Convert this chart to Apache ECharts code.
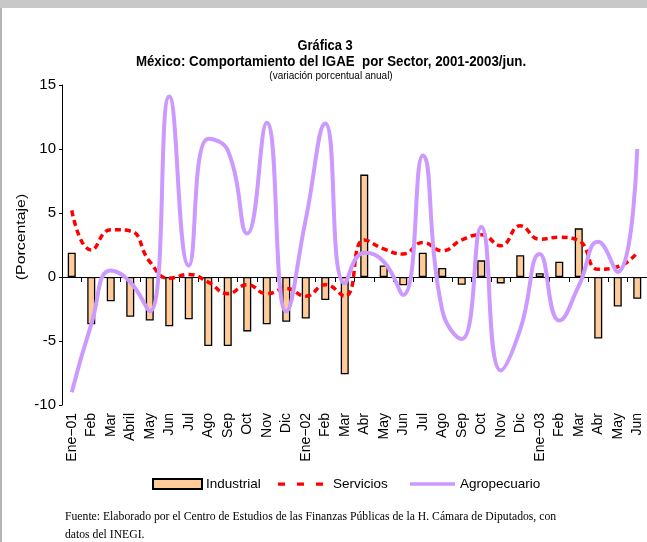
<!DOCTYPE html>
<html>
<head>
<meta charset="utf-8">
<script src="https://cdn.jsdelivr.net/npm/echarts@6/dist/echarts.min.js"></script>
<style>
html,body{margin:0;padding:0;background:#fff;}
#c{width:647px;height:542px;}
</style>
</head>
<body>
<div id="c"></div>
<script>
var categories = ['Ene\u221201','Feb','Mar','Abril','May','Jun','Jul','Ago','Sep','Oct','Nov','Dic','Ene\u221202','Feb','Mar','Abr','May','Jun','Jul','Ago','Sep','Oct','Nov','Dic','Ene\u221203','Feb','Mar','Abr','May','Jun'];
var industrial = [1.9,-3.7,-1.9,-3.1,-3.4,-3.85,-3.3,-5.4,-5.4,-4.25,-3.7,-3.5,-3.25,-1.8,-7.6,8.0,0.9,-0.65,1.9,0.7,-0.6,1.3,-0.5,1.7,0.3,1.2,3.8,-4.8,-2.3,-1.7];
var servicios = [5.2,2.1,3.7,3.6,1.2,-0.1,0.2,-0.4,-1.3,-0.6,-1.3,-0.9,-1.5,-0.6,-1.5,2.9,2.2,1.8,2.7,2.05,2.9,3.3,2.45,4.0,2.95,3.1,2.85,0.6,0.8,1.9];
var agropecuario = [-9.0,-3.7,0.5,-0.4,-2.7,14.1,0.9,10.8,9.9,3.4,12.05,-2.7,4.5,12.0,-0.5,1.9,1.2,-1.4,9.5,-2.6,-4.85,3.9,-7.3,-4.1,1.8,-3.4,-0.7,2.75,0.4,10.0];
var yTicks = {min:-10, max:15, interval:5};

var sans = '"Liberation Sans",Arial,sans-serif';
var serif = '"Liberation Serif","Times New Roman",serif';

var dashIcon = 'path://M0,0L0.01,0L0,0.01Z M0,3.5h7v3.2h-7Z M19,3.5h7v3.2h-7Z M38,3.5h7v3.2h-7Z M50,10L49.99,10L50,9.99Z';
var lineIcon = 'path://M0,0L0.01,0L0,0.01Z M0,3.2h45v3.6h-45Z M45,10L44.99,10L45,9.99Z';
var legendText = {fontFamily:sans, fontSize:13.5, color:'#000'};

var chart = echarts.init(document.getElementById('c'), null, {renderer:'canvas'});
chart.setOption({
  animation:false,
  backgroundColor:'#fff',
  grid:{left:62, right:0, top:85, bottom:137, containLabel:false},
  legend:[{
    left:152, top:477, padding:0, itemWidth:49, itemHeight:10, itemGap:0,
    textStyle:Object.assign({padding:[0,0,0,-1]}, legendText),
    data:[{name:'Industrial', icon:'rect'}]
  },{
    left:278, top:477, padding:0, itemWidth:50, itemHeight:10, itemGap:0,
    textStyle:legendText,
    data:[{name:'Servicios', icon:dashIcon, itemStyle:{borderWidth:0}, lineStyle:{width:0}}]
  },{
    left:410, top:477, padding:0, itemWidth:45, itemHeight:10, itemGap:0,
    textStyle:legendText,
    data:[{name:'Agropecuario', icon:lineIcon, itemStyle:{borderWidth:0}, lineStyle:{width:0}}]
  }],
  xAxis:[{
    type:'category', data:categories, boundaryGap:true,
    axisLine:{onZero:true, lineStyle:{color:'#000', width:1}},
    axisTick:{show:true, length:5, alignWithLabel:false, interval:0, lineStyle:{color:'#000'}},
    axisLabel:{show:false},
    splitLine:{show:false}
  },{
    type:'category', data:categories, position:'bottom', boundaryGap:true,
    axisLine:{show:false, onZero:false}, axisTick:{show:false},
    axisLabel:{interval:0, rotate:90, margin:8, fontFamily:sans, fontSize:14, color:'#000'},
    splitLine:{show:false}
  }],
  yAxis:{
    type:'value', min:yTicks.min, max:yTicks.max, interval:yTicks.interval,
    axisLine:{show:true, lineStyle:{color:'#000', width:1}},
    axisTick:{show:true, length:3, lineStyle:{color:'#000'}},
    axisLabel:{fontFamily:sans, fontSize:15, color:'#000', margin:6},
    splitLine:{show:false}
  },
  series:[{
    name:'Industrial', type:'bar', data:industrial, barWidth:8, xAxisIndex:0,
    itemStyle:{color:'#FFCC99', borderColor:'#000', borderWidth:1.3}
  },{
    name:'Servicios', type:'line', data:servicios, smooth:0.5, symbol:'none', xAxisIndex:0,
    lineStyle:{color:'#FF0000', width:3.5, type:[6,4]},
    itemStyle:{color:'#FF0000'}
  },{
    name:'Agropecuario', type:'line', data:agropecuario, smooth:0.5, symbol:'none', xAxisIndex:0,
    lineStyle:{color:'#CC99FF', width:4},
    itemStyle:{color:'#CC99FF'}
  }],
  graphic:[
    {type:'rect', shape:{x:0,y:0,width:647,height:8}, style:{fill:'#c8c8c8'}, silent:true},
    {type:'rect', shape:{x:0,y:8,width:2,height:534}, style:{fill:'#b4b4b4'}, silent:true},
    {type:'text', x:325, y:46, scaleX:0.92, style:{text:'Gráfica 3', font:'bold 14px '+sans, fill:'#000', align:'center', verticalAlign:'middle'}},
    {type:'text', x:331, y:62, scaleX:0.95, style:{text:'México: Comportamiento del IGAE  por Sector, 2001-2003/jun.', font:'bold 14px '+sans, fill:'#000', align:'center', verticalAlign:'middle'}},
    {type:'text', x:331, y:76, style:{text:'(variación porcentual anual)', font:'10px '+sans, fill:'#000', align:'center', verticalAlign:'middle'}},
    {type:'text', x:21, y:237, rotation:Math.PI/2, scaleX:1.22, style:{text:'(Porcentaje)', font:'13px '+sans, fill:'#000', align:'center', verticalAlign:'middle'}},
    {type:'text', x:65, y:517, style:{text:'Fuente: Elaborado por el Centro de Estudios de las Finanzas Públicas de la H. Cámara de Diputados, con', font:'11.7px '+serif, fill:'#000', align:'left', verticalAlign:'middle'}},
    {type:'text', x:65, y:535, style:{text:'datos del INEGI.', font:'11.7px '+serif, fill:'#000', align:'left', verticalAlign:'middle'}}
  ]
});
</script>
</body>
</html>
